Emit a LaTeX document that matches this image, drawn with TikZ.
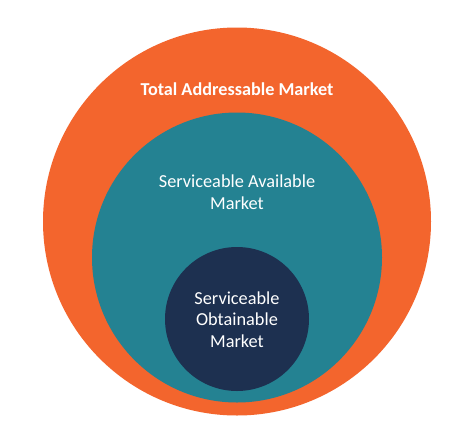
\documentclass[tikz,border=0pt]{standalone}
\usepackage{fontspec}
\setmainfont{Carlito}
\definecolor{tamorange}{RGB}{243,101,45}
\definecolor{samteal}{RGB}{36,130,146}
\definecolor{somnavy}{RGB}{29,48,80}
\begin{document}
\begin{tikzpicture}[x=1pt,y=-1pt,
  ring/.style={circle,inner sep=0pt,draw=none},
  lbl/.style={text=white,align=center,font=\fontsize{18.3}{21.5}\selectfont}]
\useasboundingbox[fill=white] (0,0) rectangle (474,432);
\node[ring,fill=tamorange,minimum size=388pt] (tam) at (237,221.5) {};
\node[ring,fill=samteal,minimum size=290pt] (sam) at (237,257.5) {};
\node[ring,fill=somnavy,minimum size=144pt] (som) at (237,319) {};
\node[lbl,font=\bfseries\fontsize{18.2}{20}\selectfont] (tamt) at (237,89) {Total Addressable Market};
\node[lbl] (samt) at (237,192) {Serviceable Available\\Market};
\node[lbl] (somt) at (237,319.5) {Serviceable\\Obtainable\\Market};
\end{tikzpicture}
\end{document}
